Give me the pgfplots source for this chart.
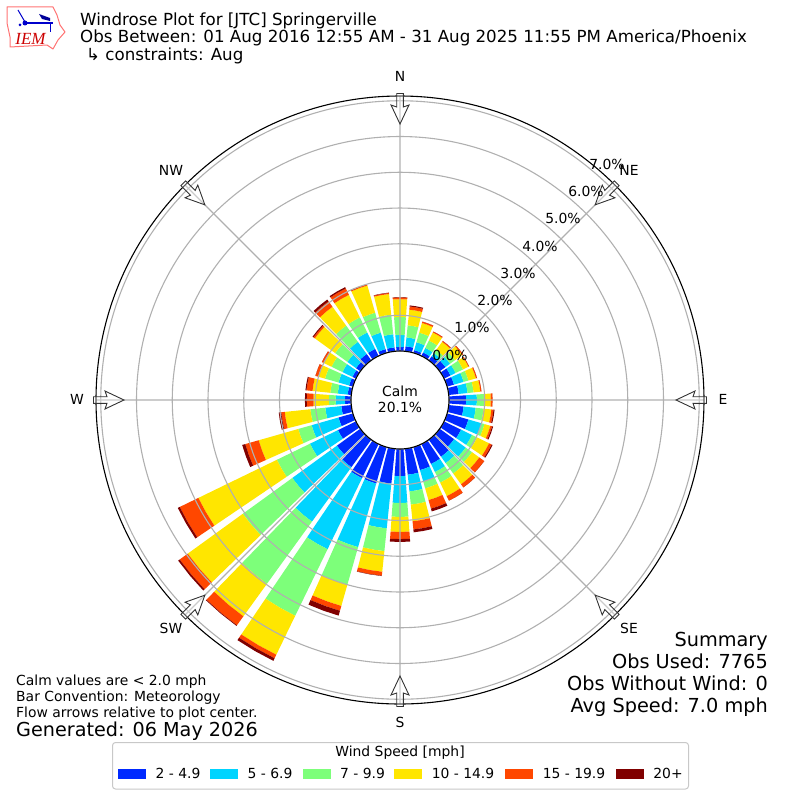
\documentclass[border=0pt]{standalone}
\usepackage{pgfplots}
\usepackage{fontspec}
\setmainfont{DejaVu Sans}
\newfontfamily\iemfont{Liberation Serif}
\pgfplotsset{compat=1.18}
\usepgfplotslibrary{polar}
\definecolor{wsA}{RGB}{0,41,255}
\definecolor{wsB}{RGB}{0,212,255}
\definecolor{wsC}{RGB}{125,255,122}
\definecolor{wsD}{RGB}{255,230,0}
\definecolor{wsE}{RGB}{255,71,0}
\definecolor{wsF}{RGB}{128,0,0}
\definecolor{gridc}{RGB}{176,176,176}
\newcommand{\pct}{1.37}% radial offset: 0.0% ring sits at the edge of the calm circle
\newcommand{\seg}[4]{%
  \pgfmathsetmacro{\ang}{90-#1}%
  \pgfmathsetmacro{\angL}{\ang-4.1}%
  \pgfmathsetmacro{\angR}{\ang+4.1}%
  \pgfmathsetmacro{\rlo}{#2+\pct}%
  \pgfmathsetmacro{\rhi}{#3+\pct}%
  \addplot[forget plot,fill=#4,draw=none] coordinates {(\angL,\rlo) (\ang,\rlo) (\angR,\rlo) (\angR,\rhi) (\ang,\rhi) (\angL,\rhi)} --cycle;%
}
% direction, then cumulative percent after each speed class
\newcommand{\wbar}[7]{%
  \seg{#1}{0}{#2}{wsA}\seg{#1}{#2}{#3}{wsB}\seg{#1}{#3}{#4}{wsC}%
  \seg{#1}{#4}{#5}{wsD}\seg{#1}{#5}{#6}{wsE}\seg{#1}{#6}{#7}{wsF}%
}
\begin{document}
\begin{tikzpicture}
\path[use as bounding box] (0,0) rectangle (800pt,-800pt);
\draw[gridc!70,line width=1pt,rounded corners=3pt,fill=white] (112.5pt,-742.5pt) rectangle (688.5pt,-789pt);
\begin{polaraxis}[
  at={(400pt,-400pt)},anchor=center,
  scale only axis,width=608pt,height=608pt,
  xmin=0,xmax=360,ymin=0,ymax=8.503,
  xtick={0,45,...,315},xticklabels={},
  ytick={1.37,2.37,3.37,4.37,5.37,6.37,7.37,8.37},yticklabels={},
  major tick length=0pt,
  grid=major,
  major grid style={gridc,line width=1.1pt},
  separate axis lines,
  x axis line style={black,line width=1.1pt},
  y axis line style={draw=none},
  axis on top,
  legend columns=6,
  legend cell align=left,
  legend image code/.code={\fill[#1] (0pt,-5pt) rectangle (28pt,5pt);\path (37.6pt,0pt);},
  legend style={at={(0.4995,-0.1151)},anchor=center,draw=none,fill=none,
    font=\fontsize{13.9pt}{16pt}\selectfont,inner sep=0pt,outer sep=0pt,
    nodes={inner sep=0pt,outer sep=0pt}},
]
\addlegendimage{fill=wsA,draw=none}\addlegendentry{\makebox[54.4pt][l]{2 - 4.9}}
\addlegendimage{fill=wsB,draw=none}\addlegendentry{\makebox[55pt][l]{5 - 6.9}}
\addlegendimage{fill=wsC,draw=none}\addlegendentry{\makebox[54pt][l]{7 - 9.9}}
\addlegendimage{fill=wsD,draw=none}\addlegendentry{\makebox[73.4pt][l]{10 - 14.9}}
\addlegendimage{fill=wsE,draw=none}\addlegendentry{\makebox[73pt][l]{15 - 19.9}}
\addlegendimage{fill=wsF,draw=none}\addlegendentry{\makebox[28pt][l]{20+}}
\wbar{0}{.11}{.45}{.95}{1.45}{1.50}{1.51}
\wbar{10}{.14}{.39}{.73}{1.17}{1.26}{1.29}
\wbar{20}{.08}{.31}{.59}{.87}{.91}{.91}
\wbar{30}{.11}{.25}{.48}{.73}{.76}{.76}
\wbar{40}{.14}{.25}{.36}{.64}{.67}{.67}
\wbar{50}{.20}{.36}{.53}{.78}{.81}{.81}
\wbar{60}{.20}{.36}{.59}{.76}{.78}{.78}
\wbar{70}{.20}{.48}{.62}{.84}{.87}{.87}
\wbar{80}{.28}{.53}{.70}{.89}{.92}{.92}
\wbar{90}{.48}{.78}{.98}{1.17}{1.22}{1.22}
\wbar{100}{.42}{.76}{.98}{1.20}{1.26}{1.29}
\wbar{110}{.62}{1.01}{1.09}{1.26}{1.31}{1.34}
\wbar{120}{.53}{.87}{1.03}{1.40}{1.48}{1.51}
\wbar{130}{.50}{.90}{1.12}{1.37}{1.54}{1.54}
\wbar{140}{.59}{.81}{1.17}{1.54}{1.65}{1.65}
\wbar{150}{.62}{.87}{1.20}{1.62}{1.76}{1.76}
\wbar{160}{.67}{1.01}{1.20}{1.54}{1.79}{1.87}
\wbar{170}{.73}{1.20}{1.57}{2.04}{2.27}{2.35}
\wbar{180}{.76}{1.51}{1.90}{2.32}{2.52}{2.60}
\wbar{190}{.98}{2.24}{2.88}{3.46}{3.57}{3.58}
\wbar{200}{1.06}{2.91}{4.00}{4.62}{4.76}{4.90}
\wbar{210}{1.06}{3.27}{5.34}{6.55}{6.66}{6.74}
\wbar{220}{.95}{2.83}{4.98}{6.10}{6.41}{6.43}
\wbar{230}{.81}{2.35}{4.06}{5.96}{6.24}{6.29}
\wbar{240}{.56}{1.43}{2.46}{4.90}{5.48}{5.54}
\wbar{250}{.42}{1.20}{1.59}{2.74}{3.13}{3.22}
\wbar{260}{.28}{.73}{1.15}{1.87}{1.97}{2.04}
\wbar{270}{.17}{.43}{.62}{1.05}{1.24}{1.29}
\wbar{280}{.10}{.38}{.59}{1.09}{1.26}{1.29}
\wbar{290}{.11}{.42}{.81}{1.01}{1.09}{1.09}
\wbar{300}{.11}{.42}{.76}{1.01}{1.06}{1.06}
\wbar{310}{.15}{.45}{.87}{1.57}{1.62}{1.65}
\wbar{320}{.22}{.64}{1.20}{1.85}{2.04}{2.10}
\wbar{330}{.22}{.73}{1.20}{1.90}{2.10}{2.14}
\wbar{340}{.11}{.59}{1.17}{1.96}{1.99}{1.99}
\wbar{350}{.11}{.48}{1.03}{1.61}{1.64}{1.65}
\end{polaraxis}
\begin{scope}[x=1pt,y=-1pt]
% calm circle
\draw[black,line width=1.1pt,fill=white] (400,400) circle (49pt);
\node[align=center,inner sep=0pt,font=\fontsize{13.9pt}{16pt}\selectfont] at (400,399) {Calm\\20.1\%};
% direction arrows
\foreach \a in {0,45,...,315}{
  \begin{scope}[shift={(400,400)},rotate=\a]
  \draw[fill=white,fill opacity=0.35,draw=black!80,line width=.9pt,line join=miter]
    (306.5,-3.3) -- (293,-3.3) -- (295,-9) -- (276,0) -- (295,9) -- (293,3.3) -- (306.5,3.3) -- cycle;
  \end{scope}
}
% compass labels
\tikzset{lab/.style={inner sep=0pt,font=\fontsize{13.9pt}{16pt}\selectfont}}
\node[lab] at (400,76) {N};
\node[lab] at (629,170) {NE};
\node[lab] at (723,399) {E};
\node[lab] at (629,628) {SE};
\node[lab] at (400,722) {S};
\node[lab] at (171,628) {SW};
\node[lab] at (77,399) {W};
\node[lab] at (171,170) {NW};
% ring labels
\node[lab] at (450,355) {0.0\%};
\node[lab] at (472,327) {1.0\%};
\node[lab] at (495,300) {2.0\%};
\node[lab] at (518,273) {3.0\%};
\node[lab] at (540,246) {4.0\%};
\node[lab] at (563,218) {5.0\%};
\node[lab] at (586,191) {6.0\%};
\node[lab] at (607,164) {7.0\%};
% header
\tikzset{ttl/.style={inner sep=0pt,anchor=base west,font=\fontsize{16.67pt}{18pt}\selectfont}}
\node[ttl] at (80,26) {Windrose Plot for [JTC] Springerville};
\node[ttl] at (80,43) {Obs Between: 01 Aug 2016 12:55 AM - 31 Aug 2025 11:55 PM America/Phoenix};
\node[ttl] at (86,61) {↳ constraints: Aug};
% footer left
\tikzset{ft/.style={inner sep=0pt,anchor=base west,font=\fontsize{13.9pt}{16pt}\selectfont}}
\node[ft] at (16,685) {Calm values are < 2.0 mph};
\node[ft] at (16,701) {Bar Convention: Meteorology};
\node[ft] at (16,717) {Flow arrows relative to plot center.};
\node[inner sep=0pt,anchor=base west,font=\fontsize{19.2pt}{20pt}\selectfont] at (16,736) {Generated: 06 May 2026};
% summary
\tikzset{sm/.style={inner sep=0pt,anchor=base east,font=\fontsize{19.3pt}{22pt}\selectfont}}
\node[sm] at (768,646) {Summary};
\node[sm] at (768,668) {Obs Used: 7765};
\node[sm] at (768,690) {Obs Without Wind: 0};
\node[sm] at (768,712) {Avg Speed: 7.0 mph};
% legend title
\node[lab] at (400,753) {Wind Speed [mph]};
% logo
\draw[red!55!white,line width=1pt,line join=round] (7,7) -- (53,7) -- (57,15) -- (60,25) -- (65,32) -- (58,40) -- (53,49) -- (47,45) -- (10,47) -- (10,37) -- (7,23) -- cycle;
\draw[blue!80!black,line width=1.6pt] (25,23) -- (53,23);
\draw[blue!80!black,line width=1pt] (18,10) -- (25,22);
\fill[blue!80!black] (25,23) circle (2.5pt);
\fill[blue!60!black] (39,14) -- (50,18) -- (50,21) -- (42,19) -- cycle;
\draw[blue!80!black,line width=1pt] (50,24) -- (50,32);
\fill[blue!80!black] (20,25) circle (1.5pt);
\node[inner sep=0pt,anchor=base,text=red!80!black,font=\iemfont\itshape\fontsize{17pt}{18pt}\selectfont] at (30.5,44.5) {IEM};
\end{scope}
\end{tikzpicture}
\end{document}
